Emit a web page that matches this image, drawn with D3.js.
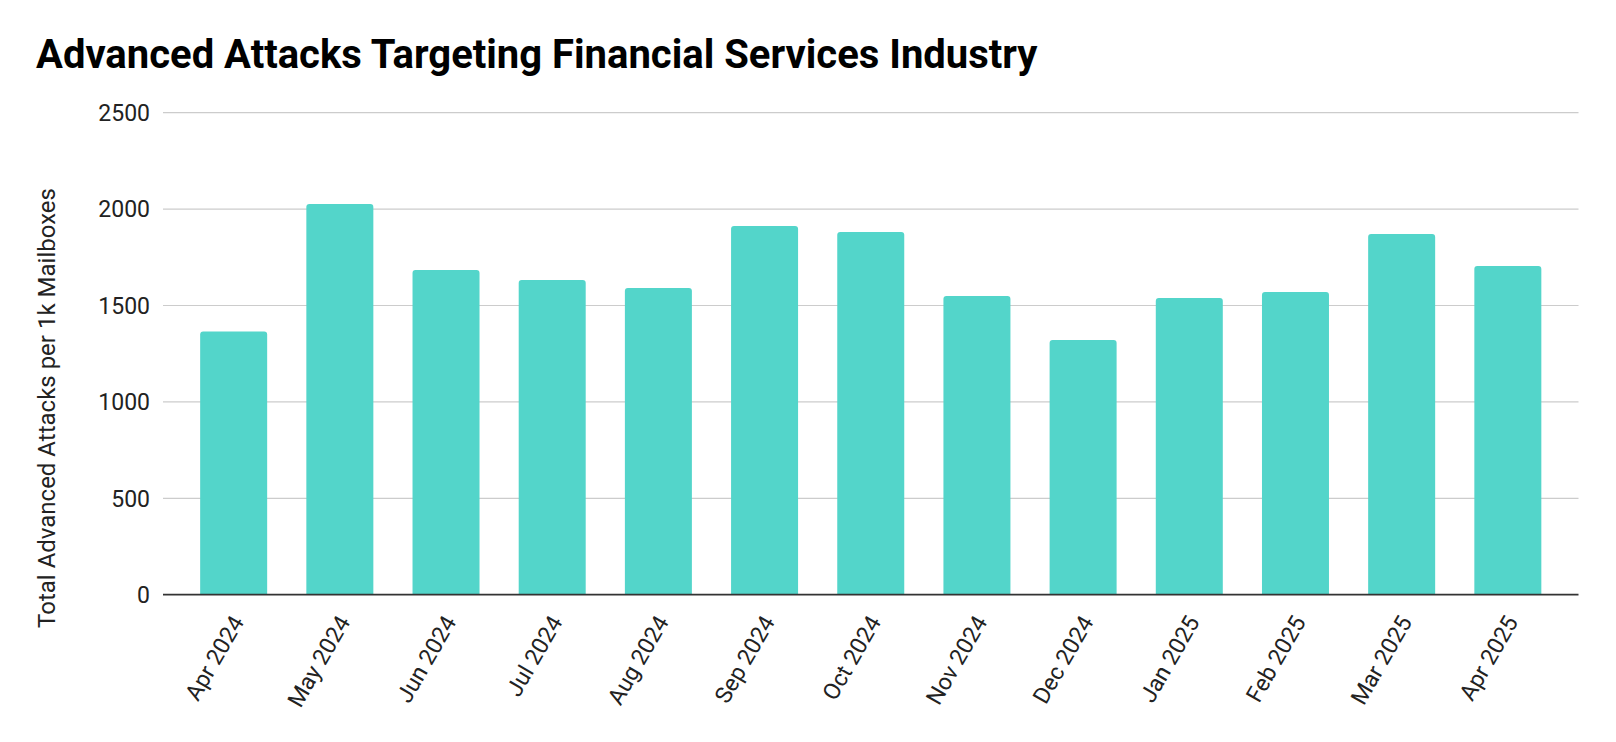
<!DOCTYPE html>
<html>
<head>
<meta charset="utf-8">
<script src="https://cdnjs.cloudflare.com/ajax/libs/d3/7.8.5/d3.min.js"></script>
<style>
  html, body { margin: 0; padding: 0; background: #fff; }
  svg { display: block; font-family: Roboto, "Noto Sans", sans-serif; }
</style>
</head>
<body>
<svg id="chart" width="1616" height="742"></svg>
<script>
const categories = ["Apr 2024","May 2024","Jun 2024","Jul 2024","Aug 2024","Sep 2024","Oct 2024","Nov 2024","Dec 2024","Jan 2025","Feb 2025","Mar 2025","Apr 2025"];
const values = [1365, 2026, 1684, 1632, 1591, 1912, 1881, 1549, 1321, 1539, 1570, 1871, 1705];
const yTicks = [0, 500, 1000, 1500, 2000, 2500];
const titleText = "Advanced Attacks Targeting Financial Services Industry";
const yAxisTitle = "Total Advanced Attacks per 1k Mailboxes";

const svg = d3.select("#chart");
const W = 1616, H = 742;
const margin = { left: 163, right: W - 1578.5, top: 112.7, bottom: H - 594.7 };

const x = d3.scaleBand().domain(categories)
  .range([margin.left, W - margin.right])
  .paddingInner(0.369).paddingOuter(0.35);
const y = d3.scaleLinear().domain([0, 2500]).range([H - margin.bottom, margin.top]);

// title
svg.append("text")
  .attr("x", 36).attr("y", 68)
  .attr("font-size", 40).attr("font-weight", 700).attr("fill", "#000")
  .text(titleText);

// gridlines
svg.append("g").selectAll("line").data(yTicks.filter(d => d > 0)).join("line")
  .attr("x1", margin.left).attr("x2", W - margin.right)
  .attr("y1", d => y(d)).attr("y2", d => y(d))
  .attr("stroke", "#cccccc").attr("stroke-width", 1.2);

// y tick labels
svg.append("g").selectAll("text").data(yTicks).join("text")
  .attr("x", 150).attr("y", d => y(d))
  .attr("dy", "0.36em")
  .attr("text-anchor", "end").attr("font-size", 23).attr("fill", "#222")
  .text(d => d);

// bars with rounded top corners
const r = 3;
svg.append("g").selectAll("path").data(values).join("path")
  .attr("fill", "#53d5ca")
  .attr("d", (d, i) => {
    const x0 = x(categories[i]), w = x.bandwidth();
    const y0 = y(d), yb = y(0);
    return `M${x0},${yb}V${y0 + r}Q${x0},${y0} ${x0 + r},${y0}H${x0 + w - r}Q${x0 + w},${y0} ${x0 + w},${y0 + r}V${yb}Z`;
  });

// baseline axis
svg.append("line")
  .attr("x1", margin.left).attr("x2", W - margin.right)
  .attr("y1", y(0)).attr("y2", y(0))
  .attr("stroke", "#333").attr("stroke-width", 1.8);

// x labels
svg.append("g").selectAll("text").data(categories).join("text")
  .attr("transform", d => `translate(${x(d) + x.bandwidth() / 2 + 11},${y(0) + 27}) rotate(-60)`)
  .attr("text-anchor", "end")
  .attr("font-size", 23).attr("fill", "#222")
  .text(d => d);

// y axis title
svg.append("text")
  .attr("transform", `translate(55,408) rotate(-90)`)
  .attr("text-anchor", "middle")
  .attr("font-size", 24).attr("fill", "#222")
  .text(yAxisTitle);
</script>
</body>
</html>
